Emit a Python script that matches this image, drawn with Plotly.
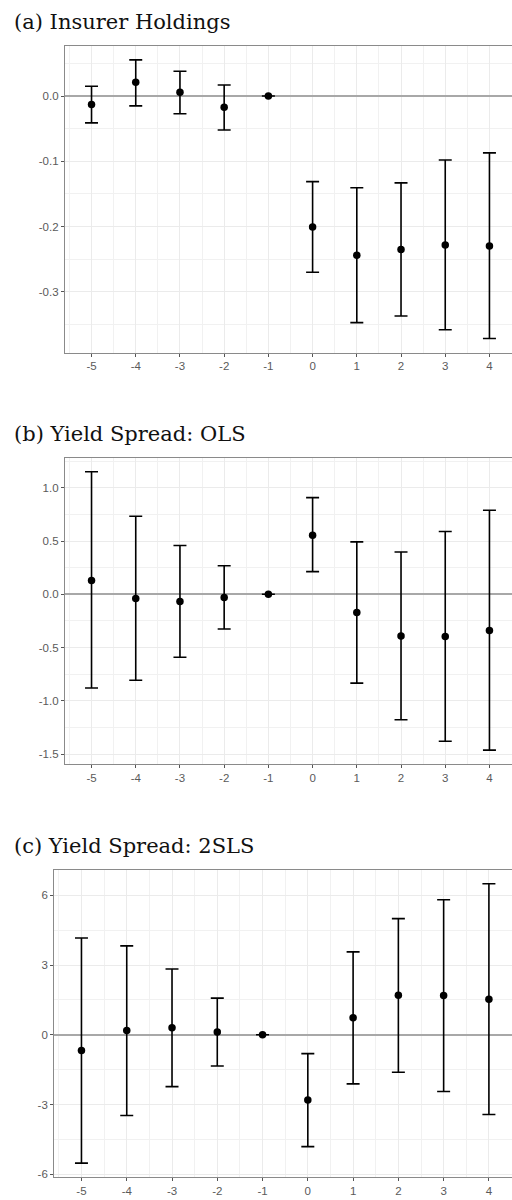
import plotly.graph_objects as go

# ---- data ----
periods = [-5, -4, -3, -2, -1, 0, 1, 2, 3, 4]
x_ticktext = ["-5", "-4", "-3", "-2", "-1", "0", "1", "2", "3", "4"]

# (a) Insurer Holdings
a_est = [-0.013, 0.021, 0.006, -0.017, 0.0, -0.2005, -0.244, -0.235, -0.228, -0.2295]
a_lo = [-0.041, -0.015, -0.027, -0.052, 0.0, -0.270, -0.347, -0.337, -0.358, -0.3715]
a_hi = [0.015, 0.0555, 0.038, 0.017, 0.0, -0.131, -0.1405, -0.133, -0.098, -0.087]
a_yticks = [-0.3, -0.2, -0.1, 0.0]
a_yticktext = ["-0.3", "-0.2", "-0.1", "0.0"]

# (b) Yield Spread: OLS
b_est = [0.128, -0.040, -0.068, -0.031, 0.0, 0.554, -0.171, -0.393, -0.396, -0.340]
b_lo = [-0.881, -0.807, -0.592, -0.327, 0.0, 0.212, -0.835, -1.178, -1.380, -1.464]
b_hi = [1.150, 0.732, 0.458, 0.268, 0.0, 0.907, 0.492, 0.396, 0.589, 0.788]
b_yticks = [-1.5, -1.0, -0.5, 0.0, 0.5, 1.0]
b_yticktext = ["-1.5", "-1.0", "-0.5", "0.0", "0.5", "1.0"]

# (c) Yield Spread: 2SLS
c_est = [-0.67, 0.19, 0.30, 0.12, 0.0, -2.81, 0.73, 1.70, 1.69, 1.53]
c_lo = [-5.52, -3.47, -2.23, -1.34, 0.0, -4.81, -2.11, -1.61, -2.44, -3.43]
c_hi = [4.17, 3.83, 2.83, 1.58, 0.0, -0.81, 3.57, 5.00, 5.81, 6.50]
c_yticks = [-6, -3, 0, 3, 6]
c_yticktext = ["-6", "-3", "0", "3", "6"]

titles = ["(a) Insurer Holdings", "(b) Yield Spread: OLS", "(c) Yield Spread: 2SLS"]

panels = [(a_est, a_lo, a_hi), (b_est, b_lo, b_hi), (c_est, c_lo, c_hi)]
yticks = [(a_yticks, a_yticktext), (b_yticks, b_yticktext), (c_yticks, c_yticktext)]

W, H = 512, 1200
# pixel layout of panels: (left, top, bottom)
boxes = [(65, 46, 353.4), (65, 459, 766), (54.3, 872, 1180)]
title_tops = [8, 421, 834]

fig = go.Figure()
GRID = "#ebebeb"
TICKFONT = dict(family="Liberation Sans, Arial", size=11.5, color="#5a5a5a")
for i, ((est, lo, hi), (left, top, bot)) in enumerate(zip(panels, boxes)):
    k = "" if i == 0 else str(i + 1)
    up = [h - e for h, e in zip(hi, est)]
    dn = [e - l for e, l in zip(est, lo)]
    fig.add_trace(go.Scatter(
        x=periods, y=est, mode="markers",
        marker=dict(color="black", size=7.5),
        error_y=dict(type="data", symmetric=False, array=up, arrayminus=dn,
                     color="black", thickness=1.6, width=6.5),
        xaxis="x" + k, yaxis="y" + k, showlegend=False,
    ))
    lo_all, hi_all = min(lo), max(hi)
    span = hi_all - lo_all
    yr = [lo_all - 0.05 * span, hi_all + 0.05 * span]
    tv, tt = yticks[i]
    dt = tv[1] - tv[0]
    fig.layout["xaxis" + k] = dict(
        domain=[left / W, 1.0], range=[-5.6, 4.51], anchor="y" + k,
        tickmode="array", tickvals=periods, ticktext=x_ticktext,
        showgrid=True, gridcolor=GRID, gridwidth=1.2,
        minor=dict(dtick=0.5, tick0=-5, showgrid=True, gridcolor="#f1f1f1", gridwidth=0.8, ticks=""),
        zeroline=False, showline=True, mirror=True, linecolor="#8a8a8a", linewidth=1.3,
        ticks="outside", ticklen=3, tickwidth=1.2, tickcolor="#555555",
        tickfont=TICKFONT,
    )
    fig.layout["yaxis" + k] = dict(
        domain=[1 - bot / H, 1 - top / H], range=yr, anchor="x" + k,
        tickmode="array", tickvals=tv, ticktext=tt,
        showgrid=True, gridcolor=GRID, gridwidth=1.2,
        minor=dict(dtick=dt / 2, tick0=0, showgrid=True, gridcolor="#f1f1f1", gridwidth=0.8, ticks=""),
        zeroline=True, zerolinecolor="#a8a8a8", zerolinewidth=2.2,
        showline=True, mirror=False, linecolor="#8a8a8a", linewidth=1.3,
        ticks="outside", ticklen=3, tickwidth=1.2, tickcolor="#555555",
        tickfont=TICKFONT,
    )
    fig.add_annotation(
        text=titles[i], xref="paper", yref="paper",
        x=12 / W, y=1 - title_tops[i] / H, xanchor="left", yanchor="top",
        showarrow=False, font=dict(family="DejaVu Serif", size=21, color="#111111"),
    )

fig.update_layout(
    width=W, height=H, autosize=False,
    margin=dict(l=0, r=0, t=0, b=0),
    paper_bgcolor="white", plot_bgcolor="white",
)
fig.write_html("out.html")
